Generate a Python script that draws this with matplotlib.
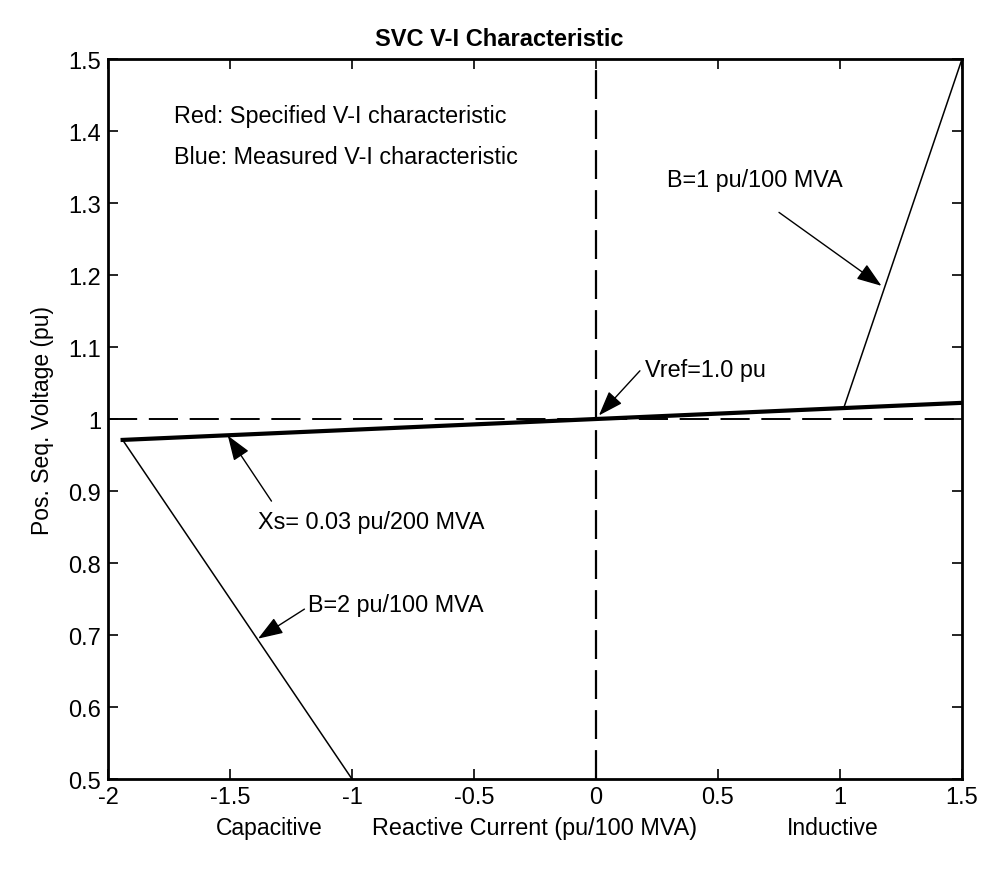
import matplotlib.pyplot as plt

plt.rcParams['font.family'] = ['Liberation Sans', 'DejaVu Sans']

# Specified characteristic (thin): capacitive limit, slope, inductive limit
cap_i = [-1.94, -1.0]
cap_v = [0.971, 0.5]
ind_i = [1.015, 1.5]
ind_v = [1.015, 1.5]
# Measured characteristic along the slope (thick)
slope_i = [-1.94, 1.5]
slope_v = [0.971, 1.0225]

xticks = [-2, -1.5, -1, -0.5, 0, 0.5, 1, 1.5]
yticks = [0.5, 0.6, 0.7, 0.8, 0.9, 1.0, 1.1, 1.2, 1.3, 1.4, 1.5]
vref = 1.0

fig = plt.figure(figsize=(10, 8.7), dpi=100)
ax = fig.add_axes([0.108, 0.1034, 0.854, 0.8276])

ax.axhline(vref, color='k', lw=1.4, ls=(0, (15, 6)))
ax.axvline(0, color='k', lw=1.6, ls=(0, (13, 5)))

ax.plot(cap_i, cap_v, color='k', lw=1.1)
ax.plot(ind_i, ind_v, color='k', lw=1.1)
ax.plot(slope_i, slope_v, color='k', lw=3)

ax.set_xlim(-2, 1.5)
ax.set_ylim(0.5, 1.5)
ax.set_xticks(xticks)
ax.set_xticklabels(['-2', '-1.5', '-1', '-0.5', '0', '0.5', '1', '1.5'])
ax.set_yticks(yticks)
ax.set_yticklabels(['0.5', '0.6', '0.7', '0.8', '0.9', '1', '1.1', '1.2', '1.3', '1.4', '1.5'])
ax.tick_params(direction='in', length=7, width=1.2, top=True, right=True,
               labelsize=17, pad=5)
for s in ax.spines.values():
    s.set_linewidth(2)

ax.set_title('SVC V-I Characteristic', fontsize=17, fontweight='bold', pad=10, x=0.458)
ax.set_ylabel('Pos. Seq. Voltage (pu)', fontsize=16.5, labelpad=10)
ax.set_xlabel('Reactive Current (pu/100 MVA)', fontsize=16.8, labelpad=6)
ax.text(-1.34, -0.052, 'Capacitive', transform=ax.get_xaxis_transform(),
        ha='center', va='top', fontsize=16.5)
ax.text(0.97, -0.052, 'Inductive', transform=ax.get_xaxis_transform(),
        ha='center', va='top', fontsize=16.5)

ax.text(-1.73, 1.421, 'Red: Specified V-I characteristic', fontsize=16.8, va='center')
ax.text(-1.73, 1.365, 'Blue: Measured V-I characteristic', fontsize=16.8, va='center')

arrow = dict(arrowstyle='-|>,head_length=0.7,head_width=0.25', color='k', lw=1,
             mutation_scale=22, shrinkA=0, shrinkB=0)

ax.text(0.29, 1.333, 'B=1 pu/100 MVA', fontsize=16.8, va='center')
ax.annotate('', xy=(1.17, 1.185), xytext=(0.75, 1.287), arrowprops=arrow)

ax.text(0.2, 1.069, 'Vref=1.0 pu', fontsize=16.8, va='center')
ax.annotate('', xy=(0.012, 1.005), xytext=(0.18, 1.067), arrowprops=arrow)

ax.text(-1.386, 0.858, 'Xs= 0.03 pu/200 MVA', fontsize=16.8, va='center')
ax.annotate('', xy=(-1.509, 0.977), xytext=(-1.33, 0.886), arrowprops=arrow)

ax.text(-1.18, 0.743, 'B=2 pu/100 MVA', fontsize=16.8, va='center')
ax.annotate('', xy=(-1.385, 0.695), xytext=(-1.195, 0.736), arrowprops=arrow)

fig.savefig('out.png', dpi=100)
